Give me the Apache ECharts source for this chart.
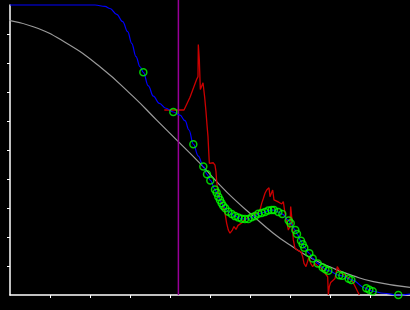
<!DOCTYPE html>
<html><head><meta charset="utf-8">
<script src="https://cdn.jsdelivr.net/npm/echarts@6/dist/echarts.min.js"></script>
<style>html,body{margin:0;padding:0;background:#000}#c{width:410px;height:310px}</style>
</head><body><div id="c"></div>
<script>
const xTicks = [1, 2, 3, 4, 5, 6, 7, 8, 9];
const yTicks = [1, 2, 3, 4, 5, 6, 7, 8, 9];
const markerX = 4.21;
const markerSpan = [0, 10.17];

const grayCurve = [
  [-0.25, 9.51], [0.583, 9.25], [1.417, 8.68], [2.25, 7.87], [3.083, 6.84],
  [3.667, 6.03], [4.208, 5.29], [4.75, 4.54], [5.167, 3.91], [5.583, 3.33],
  [6.083, 2.72], [6.583, 2.13], [7.0, 1.72], [7.583, 1.23], [8.083, 0.92],
  [8.583, 0.66], [9.083, 0.46], [10.0, 0.26]
];

const redTrace = [
  [3.858, 6.38], [4.35, 6.38], [4.5, 6.82], [4.667, 7.44], [4.7, 7.53],
  [4.708, 8.64], [4.733, 8.64], [4.733, 8.10], [4.75, 8.05], [4.758, 7.09],
  [4.808, 7.09], [4.825, 7.32], [4.85, 7.32], [4.867, 6.82], [4.9, 6.32],
  [4.925, 5.86], [4.95, 5.46], [4.967, 4.98], [4.983, 4.54], [5.083, 4.56],
  [5.125, 4.48], [5.15, 4.25], [5.167, 3.91], [5.183, 3.74], [5.208, 3.51],
  [5.25, 3.28], [5.317, 3.10], [5.375, 2.82], [5.417, 2.47], [5.458, 2.24],
  [5.5, 2.13], [5.558, 2.24], [5.6, 2.36], [5.65, 2.26], [5.7, 2.40],
  [5.75, 2.36], [5.8, 2.49], [5.85, 2.59], [5.917, 2.64], [6.0, 2.76],
  [6.083, 2.82], [6.167, 2.79], [6.25, 2.93], [6.292, 3.16], [6.333, 3.33],
  [6.375, 3.51], [6.417, 3.62], [6.442, 3.56], [6.475, 3.70], [6.5, 3.39],
  [6.542, 3.33], [6.567, 3.62], [6.6, 3.28], [6.65, 3.33], [6.692, 3.22],
  [6.733, 3.26], [6.792, 3.14], [6.833, 3.22], [6.875, 2.82], [6.917, 2.53],
  [6.958, 2.24], [7.0, 2.36], [7.017, 3.05], [7.05, 2.59], [7.083, 1.90],
  [7.125, 1.61], [7.183, 1.55], [7.233, 1.61], [7.275, 1.49], [7.317, 1.32],
  [7.35, 1.09], [7.4, 0.98], [7.442, 1.03], [7.475, 1.32], [7.517, 1.09],
  [7.567, 0.98], [7.625, 1.09], [7.708, 0.98], [7.792, 0.92], [7.875, 0.75],
  [7.942, 0.63], [7.958, 0.0], [7.983, 0.29], [8.017, 0.43], [8.067, 0.46],
  [8.125, 0.57], [8.183, 0.98], [8.233, 0.86], [8.292, 0.75], [8.375, 0.69],
  [8.483, 0.57], [8.567, 0.46], [8.65, 0.23], [8.733, 0.0]
];

const blueHead = [
  [0, 10], [2.125, 10], [2.375, 9.95], [2.5, 9.88], [2.667, 9.68],
  [2.817, 9.43], [2.942, 9.08], [3.042, 8.68], [3.15, 8.22], [3.25, 7.87]
];
const blueExtra = [
  [3.458, 7.21], [3.583, 6.86], [3.733, 6.61], [3.9, 6.44],
  [4.25, 6.2], [4.375, 6.01], [4.475, 5.69], [4.708, 4.79]
];
const blueTail = [[9.333, 0.06], [10.0, 0.03]];

const greenPoints = [
  [3.333, 7.68], [4.083, 6.31], [4.583, 5.20], [4.833, 4.43], [4.925, 4.16],
  [5.008, 3.95], [5.125, 3.64], [5.167, 3.53], [5.208, 3.39], [5.25, 3.28],
  [5.292, 3.16], [5.333, 3.07], [5.383, 2.99], [5.458, 2.87], [5.542, 2.79],
  [5.625, 2.72], [5.708, 2.67], [5.792, 2.63], [5.875, 2.62], [5.958, 2.62],
  [6.042, 2.68], [6.125, 2.72], [6.208, 2.80], [6.292, 2.83], [6.375, 2.86],
  [6.458, 2.91], [6.542, 2.93], [6.6, 2.93], [6.708, 2.86], [6.808, 2.79],
  [6.967, 2.57], [7.017, 2.47], [7.133, 2.24], [7.175, 2.10], [7.275, 1.87],
  [7.317, 1.75], [7.358, 1.63], [7.483, 1.44], [7.567, 1.26], [7.692, 1.09],
  [7.817, 0.95], [7.883, 0.89], [7.958, 0.84], [8.233, 0.68], [8.308, 0.66],
  [8.467, 0.56], [8.533, 0.52], [8.908, 0.23], [8.983, 0.18], [9.067, 0.13],
  [9.708, 0.0]
];

const blueLine = blueHead.concat(blueExtra, greenPoints, blueTail)
  .sort((a, b) => a[0] - b[0]);

const chart = echarts.init(document.getElementById('c'), null, { renderer: 'canvas' });
const axisCommon = {
  type: 'value', min: 0, max: 10,
  axisLine: { show: true, onZero: false, lineStyle: { color: '#ffffff', width: 1.5 } },
  axisLabel: { show: false },
  splitLine: { show: false }
};
chart.setOption({
  backgroundColor: '#000000',
  animation: false,
  grid: { left: 10, right: 0, top: 5, bottom: 15, containLabel: false },
  xAxis: Object.assign({}, axisCommon, {
    axisTick: { show: true, length: 3, inside: false, customValues: xTicks, lineStyle: { color: '#ffffff', width: 1 } }
  }),
  yAxis: Object.assign({}, axisCommon, {
    axisTick: { show: true, length: 3, inside: false, customValues: yTicks, lineStyle: { color: '#ffffff', width: 1 } }
  }),
  series: [
    {
      type: 'line', data: grayCurve, smooth: true, clip: false, showSymbol: false,
      lineStyle: { color: '#9a9a9a', width: 1.2 }, z: 2
    },
    {
      type: 'line', data: redTrace, smooth: false, showSymbol: false, clip: false,
      lineStyle: { color: '#cc0000', width: 1.3 }, z: 3
    },
    {
      type: 'line', data: markerSpan.map(v => [markerX, v]), clip: false, showSymbol: false,
      lineStyle: { color: '#990099', width: 1.5 }, z: 4
    },
    {
      type: 'line', data: blueLine, smooth: 0.4, smoothMonotone: 'x', showSymbol: false, clip: false,
      lineStyle: { color: '#0000ff', width: 1.2 }, z: 5
    },
    {
      type: 'scatter', data: greenPoints, symbol: 'circle', symbolSize: 7,
      itemStyle: { color: 'rgba(0,0,0,0)', borderColor: '#00ff00', borderWidth: 1.5 }, z: 6
    }
  ]
});
</script>
</body></html>
